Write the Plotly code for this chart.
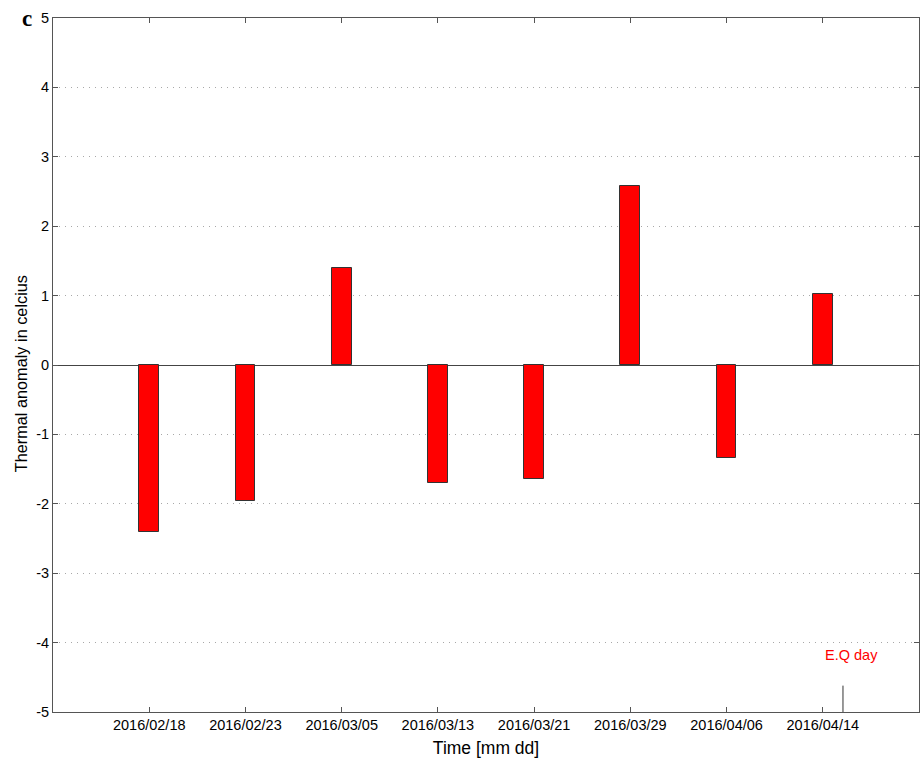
import plotly.graph_objects as go

# Acquisition dates and thermal anomaly (deg C) for each scene
dates = ["2016/02/18", "2016/02/23", "2016/03/05", "2016/03/13",
         "2016/03/21", "2016/03/29", "2016/04/06", "2016/04/14"]
anomaly = [-2.40, -1.96, 1.40, -1.70, -1.64, 2.58, -1.34, 1.02]
positions = list(range(1, len(dates) + 1))

# Earthquake day marker (two days after the last scene)
eq_x = 8.21
eq_marker_y = [-5, -4.62]
y_ticks = list(range(-5, 6))
y_tick_text = [str(v) for v in y_ticks]  # plain hyphen minus signs

axis_color = "#555555"
font_family = "Liberation Sans, Arial, sans-serif"

fig = go.Figure()

fig.add_trace(go.Bar(
    x=positions,
    y=anomaly,
    width=0.205,
    marker=dict(color="#ff0000", line=dict(color="#333333", width=1)),
    showlegend=False,
))

fig.add_trace(go.Scatter(
    x=[eq_x, eq_x],
    y=eq_marker_y,
    mode="lines",
    line=dict(color="#333333", width=1),
    showlegend=False,
    hoverinfo="skip",
))

fig.add_annotation(
    x=eq_x + 0.09, y=-4.18, text="E.Q day", showarrow=False,
    font=dict(color="#ff0000", size=14.5, family=font_family),
)

# Panel letter
fig.add_annotation(
    xref="paper", yref="paper", x=-0.022, y=1.0, xanchor="right", yanchor="middle",
    text="<b>c</b>", showarrow=False,
    font=dict(size=23, family="Liberation Serif, Times New Roman, serif", color="black"),
)

# Y axis label
fig.add_annotation(
    xref="paper", yref="y", x=-0.037, y=-0.12, xanchor="center", yanchor="middle",
    text="Thermal anomaly in celcius", textangle=-90, showarrow=False,
    font=dict(size=16.3, family=font_family, color="black"),
)

fig.update_layout(
    width=920, height=760,
    margin=dict(l=53, r=1, t=18, b=48),
    plot_bgcolor="white",
    paper_bgcolor="white",
    font=dict(family=font_family, size=14.5, color="black"),
    bargap=0,
)

fig.update_xaxes(
    range=[0, 9],
    tickvals=positions,
    ticktext=dates,
    ticks="inside",
    ticklen=5,
    tickcolor=axis_color,
    showline=True,
    linecolor=axis_color,
    linewidth=1,
    mirror="ticks",
    showgrid=False,
    zeroline=False,
    title=dict(text="Time [mm dd]", font=dict(size=17.5), standoff=9),
    tickfont=dict(size=14.5),
)

fig.update_yaxes(
    range=[-5, 5],
    tickvals=y_ticks,
    ticktext=y_tick_text,
    ticks="inside",
    ticklen=5,
    tickcolor=axis_color,
    showline=True,
    linecolor=axis_color,
    linewidth=1,
    mirror="ticks",
    showgrid=True,
    gridcolor="#a8a8a8",
    griddash="1px,5px",
    gridwidth=1,
    zeroline=True,
    zerolinecolor="#444444",
    zerolinewidth=1,
    tickfont=dict(size=14.5),
)

fig.write_html("out.html")
